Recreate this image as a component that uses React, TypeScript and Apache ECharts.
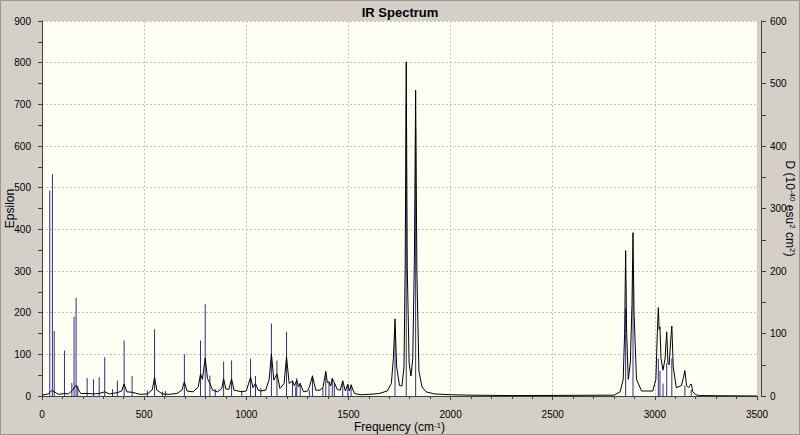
import React, { useEffect, useRef } from "react";
import * as echarts from "echarts";

// Stick spectrum: frequency (cm-1) and dipole strength D (10^-40 esu^2 cm^2)
const stickFreq = [38, 51, 60, 110, 146, 157, 167, 175, 221, 252, 280, 307, 345, 369, 402, 441, 516, 551, 590, 604, 697, 776, 799, 822, 848, 889, 928, 978, 1021, 1045, 1071, 1123, 1150, 1197, 1226, 1242, 1247, 1264, 1309, 1324, 1375, 1389, 1405, 1421, 1431, 1472, 1497, 1513, 1728, 1783, 1829, 2857, 2893, 3017, 3025, 3040, 3058, 3083, 3147, 3178];
const stickD = [329, 355, 104, 73, 21, 127, 157, 16, 29, 27, 30, 62, 11, 25, 89, 32, 9, 107, 7, 8, 67, 89, 147, 33, 11, 55, 57, 9, 60, 32, 13, 116, 57, 103, 25, 15, 29, 21, 9, 33, 13, 40, 23, 29, 21, 25, 19, 19, 100, 469, 427, 140, 200, 60, 40, 20, 53, 60, 17, 10];

// Broadened spectrum: frequency (cm-1) and Epsilon
const curveFreq = [0, 30, 40, 51, 60, 80, 110, 130, 150, 160, 167, 175, 190, 221, 252, 280, 307, 330, 369, 390, 402, 415, 441, 480, 516, 540, 551, 562, 590, 620, 660, 685, 697, 710, 740, 765, 776, 785, 799, 810, 822, 835, 860, 880, 889, 900, 915, 928, 940, 978, 1000, 1021, 1033, 1045, 1058, 1071, 1095, 1112, 1123, 1135, 1150, 1165, 1185, 1197, 1210, 1226, 1236, 1247, 1256, 1264, 1280, 1300, 1309, 1324, 1340, 1360, 1375, 1389, 1397, 1405, 1413, 1421, 1431, 1445, 1460, 1472, 1485, 1497, 1505, 1513, 1530, 1560, 1600, 1650, 1690, 1710, 1720, 1728, 1736, 1750, 1762, 1772, 1778, 1783, 1788, 1797, 1806, 1815, 1823, 1829, 1835, 1845, 1860, 1880, 1920, 2000, 2100, 2300, 2800, 2830, 2845, 2852, 2857, 2862, 2870, 2880, 2888, 2893, 2898, 2910, 2935, 2990, 3005, 3012, 3017, 3021, 3025, 3030, 3040, 3050, 3058, 3064, 3070, 3077, 3083, 3090, 3105, 3130, 3140, 3147, 3155, 3165, 3173, 3178, 3186, 3200, 3220, 3500];
const curveEps = [2, 5, 10, 14, 10, 4, 6, 5, 14, 22, 26, 18, 6, 6, 5, 6, 10, 5, 8, 12, 29, 10, 9, 4, 5, 15, 45, 14, 5, 4, 6, 14, 34, 12, 10, 22, 53, 40, 91, 42, 30, 14, 10, 18, 41, 17, 16, 41, 14, 10, 12, 45, 20, 30, 14, 12, 14, 40, 101, 38, 53, 18, 30, 94, 30, 36, 24, 38, 22, 30, 10, 12, 22, 48, 14, 14, 20, 58, 32, 34, 24, 42, 32, 16, 14, 36, 12, 28, 12, 26, 6, 3, 4, 6, 12, 30, 90, 185, 70, 25, 24, 70, 320, 802, 310, 80, 48, 90, 330, 734, 300, 60, 22, 10, 5, 3, 2, 1, 2, 10, 40, 150, 349, 150, 40, 80, 220, 392, 200, 40, 12, 12, 40, 150, 212, 160, 166, 90, 62, 90, 154, 80, 75, 130, 168, 70, 20, 25, 45, 61, 25, 20, 26, 29, 10, 3, 1, 0];

const FONT = "'Liberation Sans', Arial, sans-serif";
const plain = (v: number) => String(v);

export default function App() {
  const ref = useRef<HTMLDivElement>(null);
  useEffect(() => {
    if (!ref.current) return;
    const chart = echarts.init(ref.current, undefined, { renderer: "svg" });
    const sticks = stickFreq.map((f, i) => [f, stickD[i]]);
    const curve = curveFreq.map((f, i) => [f, curveEps[i]]);
    const dotted = { show: true, lineStyle: { color: "#c4c4c4", type: [2, 2] as any, width: 1 } };
    chart.setOption({
      animation: false,
      backgroundColor: "#D4D0C8",
      title: {
        text: "IR Spectrum",
        left: "center",
        top: 1,
        textStyle: { fontFamily: FONT, fontSize: 13, fontWeight: "bold", color: "#000" },
      },
      grid: {
        left: 42,
        right: 43,
        top: 21,
        bottom: 39,
        show: true,
        backgroundColor: "#FFFFF4",
        borderWidth: 0,
        containLabel: false,
        outerBoundsMode: "none",
      },
      xAxis: {
        type: "value",
        min: 0,
        max: 3500,
        interval: 500,
        offset: 6,
        name: "Frequency (cm{sup|-1})",
        nameLocation: "middle",
        nameGap: 19,
        nameMoveOverlap: false,
        nameTextStyle: {
          fontFamily: FONT,
          fontSize: 12,
          color: "#000",
          rich: { sup: { fontFamily: FONT, fontSize: 8, verticalAlign: "top", color: "#000" } },
        },
        axisLine: { show: true, lineStyle: { color: "#404040", width: 1 } },
        axisTick: { show: true, length: 4, lineStyle: { color: "#404040" } },
        minorTick: { show: true, splitNumber: 5, length: 3, lineStyle: { color: "#404040" } },
        axisLabel: { fontFamily: FONT, fontSize: 10, color: "#000", margin: 7, formatter: plain },
        splitLine: dotted,
      },
      yAxis: [
        {
          type: "value",
          position: "left",
          min: 0,
          max: 900,
          interval: 100,
          offset: 4,
          name: "Epsilon",
          nameLocation: "middle",
          nameGap: 22,
          nameMoveOverlap: false,
          nameTextStyle: { fontFamily: FONT, fontSize: 12, color: "#000" },
          axisLine: { show: true, lineStyle: { color: "#404040", width: 1 } },
          axisTick: { show: true, length: 4, lineStyle: { color: "#404040" } },
          minorTick: { show: true, splitNumber: 2, length: 4, lineStyle: { color: "#404040" } },
          axisLabel: { fontFamily: FONT, fontSize: 10, color: "#000", margin: 7, formatter: plain },
          splitLine: dotted,
        },
        {
          type: "value",
          position: "right",
          min: 0,
          max: 600,
          interval: 100,
          offset: 4,
          name: "D (10{sup|-40} esu{sup|2} cm{sup|2})",
          nameLocation: "middle",
          nameGap: 23,
          nameRotate: -90,
          nameMoveOverlap: false,
          nameTextStyle: {
            fontFamily: FONT,
            fontSize: 12,
            color: "#000",
            rich: { sup: { fontFamily: FONT, fontSize: 8, verticalAlign: "top", color: "#000" } },
          },
          axisLine: { show: true, lineStyle: { color: "#404040", width: 1 } },
          axisTick: { show: true, length: 5, lineStyle: { color: "#404040" } },
          minorTick: { show: true, splitNumber: 2, length: 5, lineStyle: { color: "#404040" } },
          axisLabel: { fontFamily: FONT, fontSize: 10, color: "#000", margin: 9, formatter: plain },
          splitLine: { show: false },
        },
      ],
      series: [
        {
          type: "bar",
          name: "sticks",
          yAxisIndex: 1,
          data: sticks,
          barWidth: 1,
          itemStyle: { color: "#2e2e8a" },
        },
        {
          type: "line",
          name: "spectrum",
          yAxisIndex: 0,
          data: curve,
          showSymbol: false,
          symbol: "none",
          lineStyle: { color: "#000", width: 1 },
        },
      ],
      graphic: [
        {
          type: "rect",
          shape: { x: 0.5, y: 0.5, width: 799, height: 434 },
          style: { fill: "none", stroke: "#9a978f", lineWidth: 1 },
          silent: true,
        },
      ],
    });
    return () => chart.dispose();
  }, []);
  return <div ref={ref} style={{ position: "fixed", left: 0, top: 0, width: 800, height: 435 }} />;
}
